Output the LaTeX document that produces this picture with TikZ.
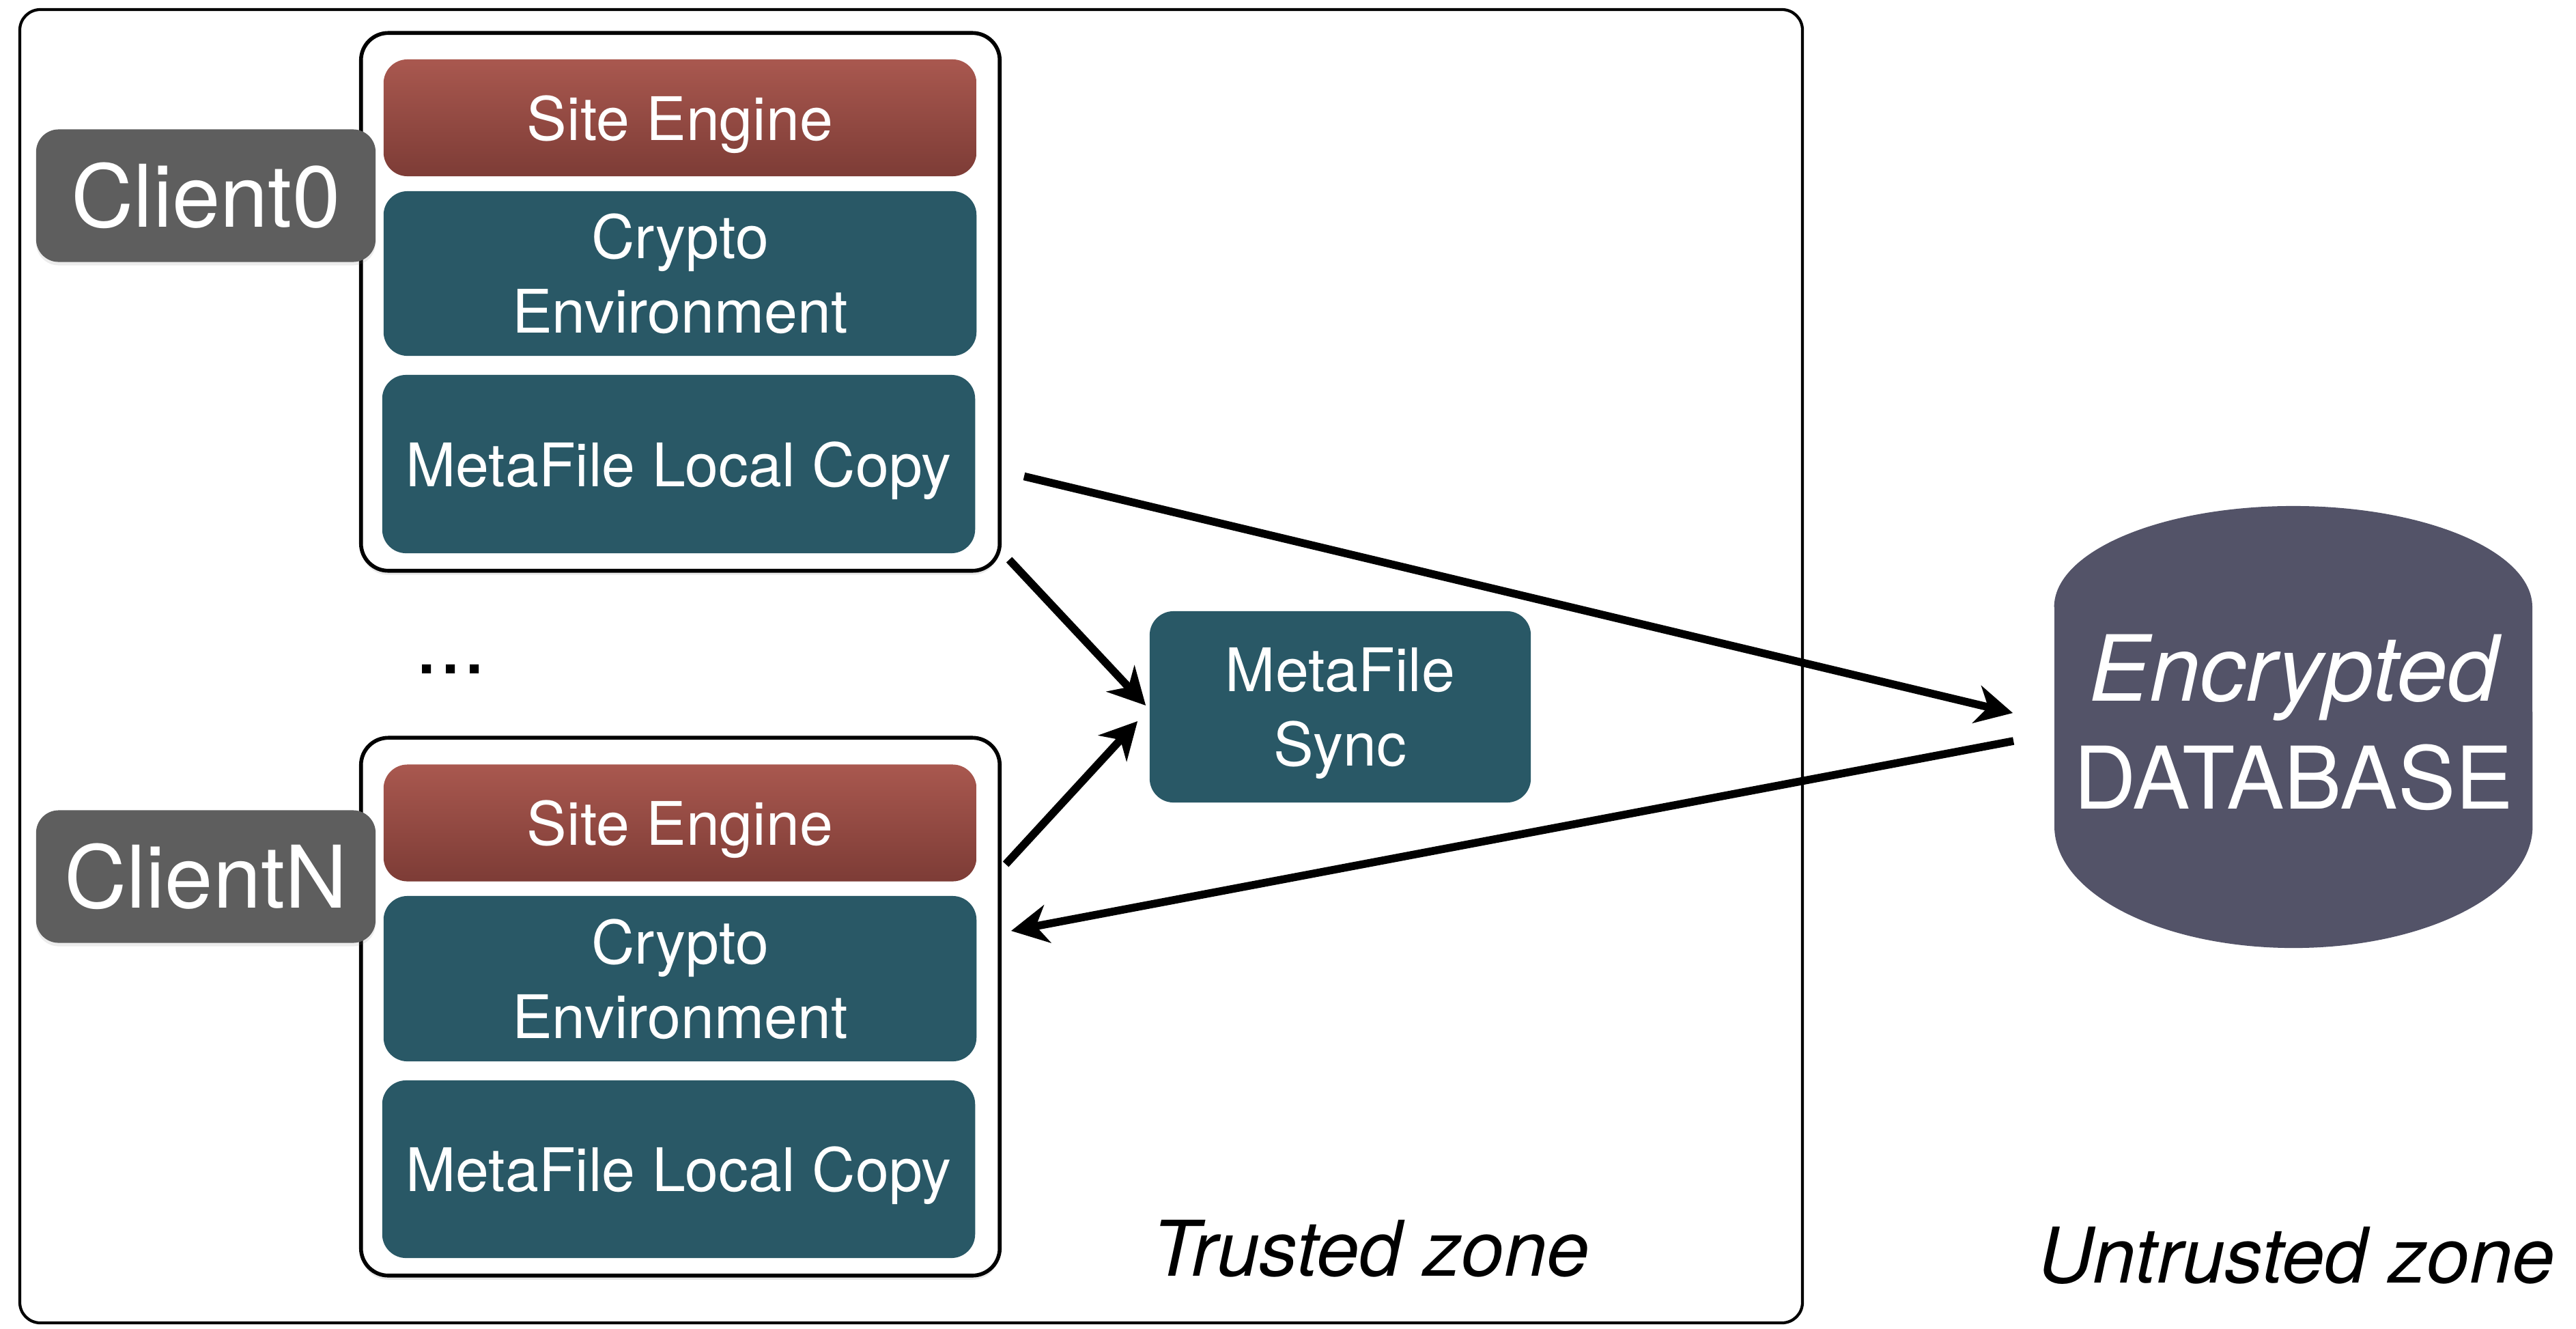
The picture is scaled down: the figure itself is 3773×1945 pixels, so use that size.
\documentclass[tikz,border=0pt]{standalone}
\usepackage{fontspec}
\setmainfont{TeX Gyre Heros}
\usetikzlibrary{arrows.meta,shadows}
\definecolor{EngineTopClr}{rgb}{0.663,0.345,0.310}
\definecolor{EngineBotClr}{rgb}{0.490,0.235,0.212}
\definecolor{CryptoClr}{rgb}{0.161,0.345,0.400}
\definecolor{ClientClr}{rgb}{0.369,0.369,0.369}
\definecolor{BaseClr}{rgb}{0.325,0.325,0.408}

\begin{document}
\begin{tikzpicture}[x=0.01cm,y=-0.01cm,
  layer/.style={rounded corners=0.35cm,text=white,align=center,inner sep=0pt,
    text depth=0pt,minimum width=8.68cm,font=\fontsize{25}{31}\selectfont},
  engine/.style={layer,top color=EngineTopClr,bottom color=EngineBotClr,minimum height=1.71cm},
  crypto/.style={layer,fill=CryptoClr},
  client/.style={draw=black,line width=1.6pt,fill=white,rounded corners=0.4cm,
    minimum width=9.35cm,minimum height=7.87cm,
    drop shadow={shadow xshift=0pt,shadow yshift=-0.06cm,opacity=0.18}},
  tag/.style={fill=ClientClr,text=white,rounded corners=0.33cm,inner sep=0pt,
    minimum width=4.97cm,minimum height=1.94cm,font=\fontsize{36}{40}\selectfont,
    drop shadow={shadow xshift=0pt,shadow yshift=-0.05cm,opacity=0.15}},
  flow/.style={line width=3.3pt,-{Stealth[length=0.54cm,width=0.56cm,inset=0.17cm]}},
  zone/.style={font=\fontsize{32}{38}\selectfont\itshape,anchor=base}]

\useasboundingbox (0,0) rectangle (3773,1945);

\draw[line width=1.2pt,rounded corners=0.3cm] (29,14) rectangle (2640,1937);

\node[client] (c0) at (996.5,442) {};
\node[engine] (se0) at (996,172.5) {Site Engine};
\node[crypto,minimum height=2.41cm] (cr0) at (996,400.5) {Crypto\\Environment};
\node[crypto,minimum height=2.61cm] (mf0) at (994,679.5) {MetaFile Local Copy};
\node[tag] (lab0) at (301.5,286.5) {Client0};

\node[font=\fontsize{36}{40}\selectfont] (dots) at (660,980) {...};

\node[client] (cN) at (996.5,1474) {};
\node[engine] (seN) at (996,1205) {Site Engine};
\node[crypto,minimum height=2.42cm] (crN) at (996,1433) {Crypto\\Environment};
\node[crypto,minimum height=2.60cm] (mfN) at (994,1712) {MetaFile Local Copy};
\node[tag] (labN) at (301.5,1283.5) {ClientN};

\node[crypto,minimum width=5.58cm,minimum height=2.80cm] (sync) at (1963,1035) {MetaFile\\Sync};

\fill[BaseClr] (3009,889) -- (3009,1210)
  arc[start angle=180,end angle=360,x radius=3.5cm,y radius=1.78cm] -- (3709,889)
  arc[start angle=0,end angle=180,x radius=3.5cm,y radius=1.48cm] -- cycle;
\node[minimum width=7cm,minimum height=6.47cm,text=white,align=center,inner sep=0pt,
  font=\fontsize{36}{45}\selectfont] (db) at (3359,1058)
  {{\fontsize{38}{45}\selectfont\itshape Encrypted}\\DATABASE};

\node[zone] (trust) at (2008,1868) {Trusted zone};
\node[zone] (untrust) at (3364,1878) {Untrusted zone};

\draw[flow] ([shift={(11,-19)}]c0.south east) -- ([shift={(-5,-2)}]sync.west);
\draw[flow] ([shift={(6,188)}]cN.north east) -- ([shift={(-17,21)}]sync.west);
\draw[flow] ([shift={(71,18)}]mf0.east) -- ([shift={(-60,-14)}]db.west);
\draw[flow] ([shift={(-59,27)}]db.west) -- ([shift={(50,-70)}]crN.east);

\end{tikzpicture}
\end{document}
